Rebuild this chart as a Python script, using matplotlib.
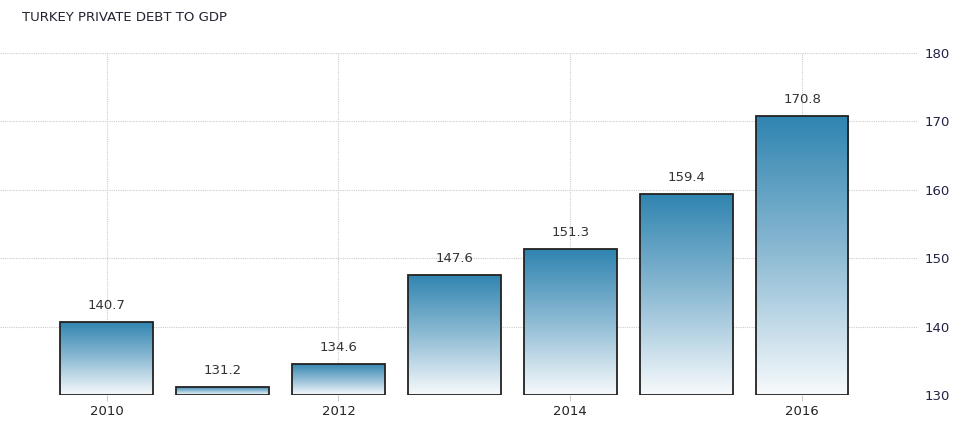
import matplotlib
matplotlib.use("Agg")
import matplotlib.pyplot as plt
import numpy as np
from matplotlib.colors import LinearSegmentedColormap

years = [2010, 2011, 2012, 2013, 2014, 2015, 2016]
values = [140.7, 131.2, 134.6, 147.6, 151.3, 159.4, 170.8]
xtick_years = [2010, 2012, 2014, 2016]
yticks = [130, 140, 150, 160, 170, 180]
title = "TURKEY PRIVATE DEBT TO GDP"

fig = plt.figure(figsize=(9.74, 4.30), dpi=100)
ax = fig.add_axes([0.0, 0.0814, 0.9425, 0.7960])
ax.set_xlim(2009.08, 2017.0)
ax.set_ylim(130, 180)

cmap = LinearSegmentedColormap.from_list("g", ["#f7fafc", "#8ebbd4", "#2f84b0"])
grad = np.linspace(0, 1, 256).reshape(-1, 1)

bars = ax.bar(years, [v - 130 for v in values], bottom=130, width=0.8,
              facecolor="none", edgecolor="#222222", linewidth=1.3, zorder=3)
for b, v in zip(bars, values):
    x0 = b.get_x()
    w = b.get_width()
    im = ax.imshow(grad, aspect="auto", cmap=cmap, origin="lower",
                   extent=[x0, x0 + w, 130, v], zorder=2, interpolation="bicubic")
    im.set_clip_path(b)
    ax.annotate(f"{v:.1f}", xy=(b.get_x() + w / 2, v), xytext=(0, 7),
                textcoords="offset points", ha="center", va="bottom",
                fontsize=9.5, color="#333333")

ax.set_xlim(2009.08, 2017.0)
ax.set_ylim(130, 180)
ax.set_xticks(xtick_years)
ax.set_xticklabels([str(y) for y in xtick_years])
ax.set_yticks(yticks)
ax.yaxis.tick_right()
ax.tick_params(axis="y", length=0, pad=5, labelsize=9.5, labelcolor="#222244")
ax.tick_params(axis="x", length=4, color="#cccccc", pad=3, labelsize=9.5, labelcolor="#222222")
ax.grid(True, color="#cccccc", linestyle=(0, (1, 1)), linewidth=0.8, zorder=0)
for s in ax.spines.values():
    s.set_visible(False)

fig.text(0.0226, 0.96, title, fontsize=9.5, color="#222233", ha="left", va="center")

fig.savefig("out.png", dpi=100)
